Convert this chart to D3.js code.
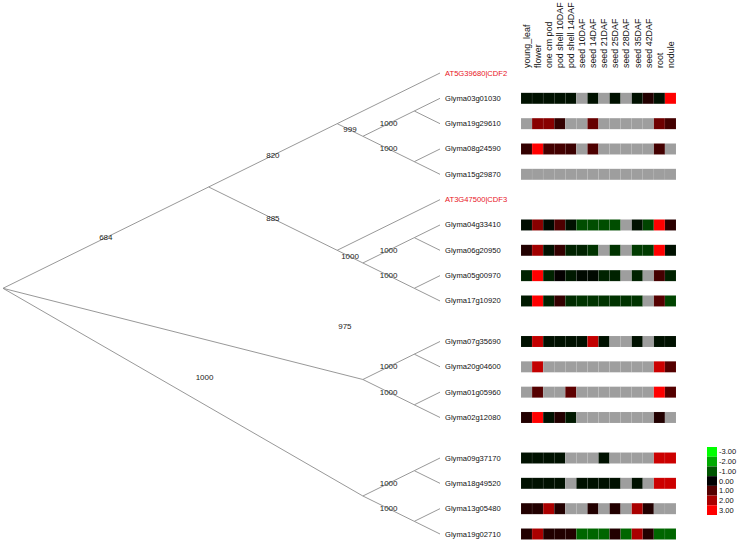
<!DOCTYPE html>
<html><head><meta charset="utf-8">
<script src="https://cdn.jsdelivr.net/npm/d3@7"></script>
<style>body{margin:0;background:#fff} svg{display:block}</style>
</head><body><svg id="c" width="741" height="543"></svg>
<script>
// ---------------- data ----------------
const conditions = ["young_leaf","flower","one cm pod","pod shell 10DAF","pod shell 14DAF","seed 10DAF","seed 14DAF","seed 21DAF","seed 25DAF","seed 28DAF","seed 35DAF","seed 42DAF","root","nodule"];

const treeNewick = "(((AT5G39680|CDF2,((Glyma03g01030,Glyma19g29610)1000,(Glyma08g24590,Glyma15g29870)1000)999)820,(AT3G47500|CDF3,((Glyma04g33410,Glyma06g20950)1000,(Glyma05g00970,Glyma17g10920)1000)1000)885)684,((Glyma07g35690,Glyma20g04600)1000,(Glyma01g05960,Glyma02g12080)1000)975,((Glyma09g37170,Glyma18g49520)1000,(Glyma13g05480,Glyma19g02710)1000)1000);";

const highlightLeaves = ["AT5G39680|CDF2","AT3G47500|CDF3"];

const genes = ["Glyma03g01030","Glyma19g29610","Glyma08g24590","Glyma15g29870","Glyma04g33410","Glyma06g20950","Glyma05g00970","Glyma17g10920","Glyma07g35690","Glyma20g04600","Glyma01g05960","Glyma02g12080","Glyma09g37170","Glyma18g49520","Glyma13g05480","Glyma19g02710"];

const N = null;
const expression = [
  [-0.2,-0.2,-0.2,-0.2,-0.2,N,-0.2,N,-0.2,N,-0.2,0.4,-0.2,3.0],
  [N,1.6,1.6,0.6,N,N,1.2,N,N,N,N,N,1.3,0.8],
  [0.6,3.0,0.8,0.8,0.7,N,0.9,N,N,N,N,N,0.8,N],
  [N,N,N,N,N,N,N,N,N,N,N,N,N,N],
  [-0.15,1.6,-0.1,0.9,-0.2,-0.9,-0.9,-0.9,-0.9,N,-0.2,-0.8,3.0,0.5],
  [0.4,1.9,-0.2,0.6,-0.4,-0.4,-0.6,N,-0.6,N,-0.7,-0.7,3.0,-0.2],
  [-0.4,3.0,-0.4,0.05,-0.3,-0.1,-0.1,-0.4,-0.4,N,-0.4,N,0.8,-0.4],
  [-0.3,3.0,-0.4,0.6,-0.5,-0.6,-0.6,-0.6,-0.6,-0.6,-0.6,N,1.0,-0.8],
  [-0.2,2.3,-0.2,-0.2,-0.2,-0.2,2.3,-0.2,N,N,-0.2,N,-0.2,-0.2],
  [N,2.3,N,N,N,N,N,N,N,N,N,N,2.4,1.0],
  [N,1.0,N,N,1.1,N,N,N,N,N,N,N,3.0,1.0],
  [0.4,3.0,-0.2,0.4,-0.3,N,N,N,N,N,N,N,0.4,N],
  [-0.2,-0.2,-0.2,-0.2,N,N,N,-0.2,N,N,N,N,2.4,2.4],
  [-0.2,-0.2,-0.2,-0.2,N,-0.2,-0.2,-0.2,-0.2,N,-0.2,N,2.4,2.4],
  [0.4,0.4,2.0,0.4,N,N,0.4,N,0.4,N,2.0,0.4,N,N],
  [0.4,2.0,0.4,0.4,0.4,-1.2,-1.2,-1.2,0.4,-1.2,2.0,0.4,-1.2,-1.2]
];

const legendValues = [-3,-2,-1,0,1,2,3];

// ---------------- helpers ----------------
function parseNewick(s){
  let i = 0;
  function node(){
    const n = {children: []};
    if (s[i] === '('){
      i++; n.children.push(node());
      while (s[i] === ','){ i++; n.children.push(node()); }
      i++; // ')'
    }
    let lab = '';
    while (i < s.length && !',();'.includes(s[i])) lab += s[i++];
    if (n.children.length) n.support = lab; else n.name = lab;
    return n;
  }
  return node();
}

const FONT = "'Liberation Sans', Arial, Helvetica, sans-serif";
const svg = d3.select("#c").style("font-family", FONT);

const root = d3.hierarchy(parseNewick(treeNewick), d => d.children.length ? d.children : null);
const leaves = root.leaves();
leaves.forEach((l, i) => l.idx = i);
root.eachAfter(n => {
  if (!n.children){ n.first = n.last = n.idx; }
  else { n.first = n.children[0].first; n.last = n.children[n.children.length-1].last; }
});
// extra spacing between the top-level clades
const GAP = 0.6;
const boundaries = root.children.slice(1).map(c => c.first - 0.5);
const slot = idx => idx + GAP * boundaries.filter(b => b < idx).length;

const yScale = d3.scaleLinear().domain([0, slot(leaves.length - 1)]).range([73, 534]);
const xScale = d3.scaleLinear().domain([0, leaves.length - 1]).range([440, 3]);

root.each(n => {
  n.px = xScale(n.last - n.first);
  n.py = yScale(slot((n.first + n.last) / 2));
});

// ---------------- tree ----------------
const gTree = svg.append("g");
gTree.selectAll("line.br").data(root.links()).join("line")
  .attr("x1", d => d.source.px).attr("y1", d => d.source.py)
  .attr("x2", d => d.target.px).attr("y2", d => d.target.py)
  .attr("stroke", "#8c8c8c").attr("stroke-width", 0.9);

// support labels (branch midpoint; two root branches were placed elsewhere in the original)
const labelPlacement = new Map();
labelPlacement.set(root.children[1], {t: 0.95, dy: -48});
labelPlacement.set(root.children[2], {t: 0.56, dy: -27});
const supportNodes = root.descendants().filter(n => n.parent && n.children);
gTree.selectAll("text.sup").data(supportNodes).join("text")
  .attr("x", d => { const p = labelPlacement.get(d) || {t: 0.5, dy: 0}; return d.parent.px + p.t * (d.px - d.parent.px); })
  .attr("y", d => { const p = labelPlacement.get(d) || {t: 0.5, dy: 0}; return d.parent.py + p.t * (d.py - d.parent.py) + p.dy; })
  .attr("text-anchor", "middle").attr("dominant-baseline", "central")
  .attr("font-size", 8).attr("fill", "#222")
  .text(d => d.data.support);

gTree.selectAll("text.leaf").data(leaves).join("text")
  .attr("x", d => d.px + 5).attr("y", d => d.py)
  .attr("dominant-baseline", "central")
  .attr("font-size", 7.6)
  .attr("fill", d => highlightLeaves.includes(d.data.name) ? "#e8141c" : "#111")
  .text(d => d.data.name);

// ---------------- heatmap ----------------
const xBand = d3.scaleBand().domain(conditions).range([521, 676]);
const rowH = 11;
const leafY = new Map(leaves.map(l => [l.data.name, l.py]));
const color = v => v == null ? "#9e9e9e"
  : v >= 0 ? d3.rgb(Math.min(1, v / 3) * 255, 0, 0) : d3.rgb(0, Math.min(1, -v / 3) * 255, 0);

const cells = [];
genes.forEach((g, r) => expression[r].forEach((v, c) => cells.push({g, c: conditions[c], v})));
svg.append("g").selectAll("rect").data(cells).join("rect")
  .attr("x", d => xBand(d.c)).attr("y", d => leafY.get(d.g) - rowH / 2)
  .attr("width", xBand.bandwidth()).attr("height", rowH)
  .attr("fill", d => color(d.v))
  .attr("stroke", "rgba(255,255,255,0.12)").attr("stroke-width", 0.5);

svg.append("g").selectAll("text").data(conditions).join("text")
  .attr("transform", d => `translate(${xBand(d) + xBand.bandwidth() / 2 + 3.3},68) rotate(-90)`)
  .attr("font-size", 8.9).attr("fill", "#111")
  .text(d => d);

// ---------------- legend ----------------
const legY = d3.scaleBand().domain(legendValues).range([447, 515]);
const gLeg = svg.append("g");
gLeg.selectAll("rect").data(legendValues).join("rect")
  .attr("x", 707).attr("y", d => legY(d)).attr("width", 10).attr("height", legY.bandwidth())
  .attr("fill", d => color(d));
gLeg.selectAll("text").data(legendValues).join("text")
  .attr("x", 719).attr("y", d => legY(d) + legY.bandwidth() / 2)
  .attr("dominant-baseline", "central").attr("font-size", 7.5).attr("fill", "#111")
  .text(d => d.toFixed(2));
</script>
</body></html>
